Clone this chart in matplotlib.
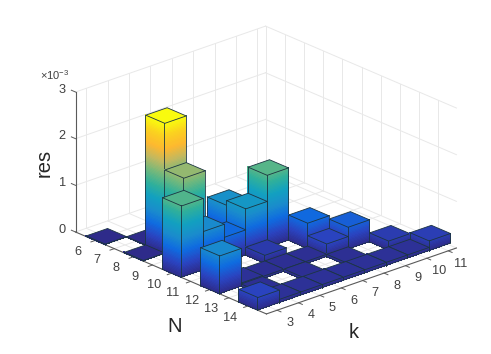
import numpy as np
import matplotlib
matplotlib.use("Agg")
import matplotlib.pyplot as plt
from matplotlib.colors import LinearSegmentedColormap
from mpl_toolkits.mplot3d import proj3d
from mpl_toolkits.mplot3d.art3d import Poly3DCollection

plt.rcParams['font.family'] = ['Liberation Sans', 'DejaVu Sans']
plt.rcParams['mathtext.fontset'] = 'custom'
plt.rcParams['mathtext.rm'] = 'Liberation Sans'

N_vals = [6, 7, 8, 9, 10, 11, 12, 13, 14]
k_vals = [3, 4, 5, 6, 7, 8, 9, 10, 11]
z_ticks = [0, 1, 2, 3]
nan = np.nan
# res in units of 1e-3, rows N, columns k, nan = no bar
res_6 = [0.02, nan, nan, nan, nan, nan, nan, nan, nan]
res_7 = [nan, 0.02, nan, nan, nan, nan, nan, nan, nan]
res_8 = [0.02, 2.80, nan, nan, nan, nan, nan, nan, nan]
res_9 = [nan, 1.80, nan, 0.90, nan, nan, nan, nan, nan]
res_10 = [1.54, 0.83, 0.55, 1.00, 1.56, nan, nan, nan, nan]
res_11 = [nan, nan, nan, 0.18, nan, 0.55, nan, nan, nan]
res_12 = [0.82, 0.08, 0.06, 0.06, 0.06, 0.28, 0.48, nan, nan]
res_13 = [nan, 0.06, nan, 0.06, nan, 0.06, nan, 0.20, nan]
res_14 = [0.28, 0.08, 0.08, 0.08, 0.08, 0.08, 0.08, 0.08, 0.22]
res = np.array([res_6, res_7, res_8, res_9, res_10, res_11, res_12, res_13, res_14])

parula = LinearSegmentedColormap.from_list("parula", [
    (0.0, "#2e2a88"), (0.1, "#2a44c0"), (0.2, "#0f6be0"), (0.3, "#1a8ccc"),
    (0.4, "#12a0c0"), (0.5, "#30b09a"), (0.6, "#72b87c"), (0.7, "#c0b860"),
    (0.8, "#fdb830"), (0.9, "#fbd020"), (1.0, "#f9fb0e")])
vmax = np.nanmax(res)

N_lim = (4.97, 14.97)
k_lim = (2.5, 11.38)
z_lim = (0, 3)

fig = plt.figure(figsize=(4.91, 3.54), dpi=100)
ax = fig.add_axes([15.7/491, 2.2/354, 1, 1], projection='3d', computed_zorder=False)
ax.set_proj_type('ortho')
ax.view_init(elev=22.7, azim=-41.96)
ax.set_box_aspect((285.6, 255.6, 151.8), zoom=1.13)
ax.set_axis_off()

grid = '#e8e8e8'
line = '#5a5a5a'

# walls and floor grid
for z in z_ticks:
    ax.plot([N_lim[0], N_lim[0]], [k_lim[0], k_lim[1]], [z, z], color=grid, lw=0.7, zorder=1)
    ax.plot([N_lim[0], N_lim[1]], [k_lim[1], k_lim[1]], [z, z], color=grid, lw=0.7, zorder=1)
for n in N_vals:
    ax.plot([n, n], [k_lim[1], k_lim[1]], z_lim, color=grid, lw=0.7, zorder=1)
    ax.plot([n, n], k_lim, [0, 0], color=grid, lw=0.7, zorder=1)
for k in k_vals:
    ax.plot([N_lim[0], N_lim[0]], [k, k], z_lim, color=grid, lw=0.7, zorder=1)
    ax.plot(N_lim, [k, k], [0, 0], color=grid, lw=0.7, zorder=1)
ax.plot([N_lim[0], N_lim[0]], [k_lim[1], k_lim[1]], z_lim, color=grid, lw=0.7, zorder=1)

# axis lines and ticks
ax.plot([N_lim[0], N_lim[0]], [k_lim[0], k_lim[0]], z_lim, color=line, lw=0.8, zorder=2)
ax.plot(N_lim, [k_lim[0], k_lim[0]], [0, 0], color=line, lw=0.8, zorder=2)
ax.plot([N_lim[1], N_lim[1]], k_lim, [0, 0], color=line, lw=0.8, zorder=2)
for n in N_vals:
    ax.plot([n, n], [k_lim[0], k_lim[0] - 0.2], [0, 0], color=line, lw=0.7, zorder=2)
for k in k_vals:
    ax.plot([N_lim[1], N_lim[1] + 0.2], [k, k], [0, 0], color=line, lw=0.7, zorder=2)
for z in z_ticks:
    ax.plot([N_lim[0] - 0.22, N_lim[0]], [k_lim[0], k_lim[0]], [z, z], color=line, lw=0.7, zorder=2)

edge = '#1c3542'


def add_face(corner_a, corner_b, height, order):
    # side of a bar cut in thin strips so the colour follows the height
    levels = np.linspace(0, height, max(2, int(np.ceil(height / 0.03)) + 1))
    polys = []
    colors = []
    for lo, hi in zip(levels[:-1], levels[1:]):
        polys.append([(corner_a[0], corner_a[1], lo), (corner_b[0], corner_b[1], lo),
                      (corner_b[0], corner_b[1], hi), (corner_a[0], corner_a[1], hi)])
        colors.append(parula(0.5 * (lo + hi) / vmax))
    col = Poly3DCollection(polys, facecolors=colors, edgecolors='none', linewidths=0,
                           antialiaseds=False, zorder=order)
    ax.add_collection3d(col)


def draw_bar(n, k, h, order):
    n0, n1 = n - 0.5, n + 0.5
    k0, k1 = k - 0.5, k + 0.5
    add_face((n0, k0), (n1, k0), h, order)
    add_face((n1, k0), (n1, k1), h, order)
    top = Poly3DCollection([[(n0, k0, h), (n1, k0, h), (n1, k1, h), (n0, k1, h)]],
                           facecolors=[parula(h / vmax)], edgecolors=edge, linewidths=0.6, zorder=order)
    ax.add_collection3d(top)
    for a, b in [((n0, k0), (n1, k0)), ((n1, k0), (n1, k1))]:
        ax.plot([a[0], b[0]], [a[1], b[1]], [0, 0], color=edge, lw=0.5, zorder=order)
    for a in [(n0, k0), (n1, k0), (n1, k1)]:
        ax.plot([a[0], a[0]], [a[1], a[1]], [0, h], color=edge, lw=0.6, zorder=order)


# back to front: small N first, large k first
order = 10
for i, n in enumerate(N_vals):
    for j in range(len(k_vals) - 1, -1, -1):
        if not np.isnan(res[i, j]):
            draw_bar(n, k_vals[j], res[i, j], order)
            order += 1

ax.set_xlim(N_lim)
ax.set_ylim(k_lim)
ax.set_zlim(z_lim)

# the square 3d axes box is narrower than the drawing
for artist in list(ax.lines) + list(ax.collections):
    artist.set_clip_on(False)


def tick_label(n, k, z, s):
    # text placed in the projected plane of the 3d axes
    px, py, _ = proj3d.proj_transform(n, k, z, ax.get_proj())
    ax.text2D(px, py, s, transform=ax.transData, fontsize=9.2, color='#404040',
              ha='center', va='center', clip_on=False)


for n in N_vals:
    tick_label(n + 0.37, k_lim[0] - 1.16, 0, str(n))
for k in k_vals:
    tick_label(N_lim[1] + 1.15, k - 0.44, 0, str(k))
for z in z_ticks:
    tick_label(N_lim[0] - 0.7, k_lim[0], z - 0.074, str(z))

fig.text(44/491, 1 - 163/354, 'res', fontsize=14.5, rotation=90, ha='center', va='center', color='#262626')
fig.text(175/491, 1 - 327/354, 'N', fontsize=14.5, ha='center', va='center', color='#262626')
fig.text(354/491, 1 - 332/354, 'k', fontsize=14.5, ha='center', va='center', color='#262626')
fig.text(40/491, 1 - 75/354, r'$\times\mathrm{10^{-3}}$', fontsize=8, ha='left', va='center', color='#404040')

fig.savefig('out.png', dpi=100)
